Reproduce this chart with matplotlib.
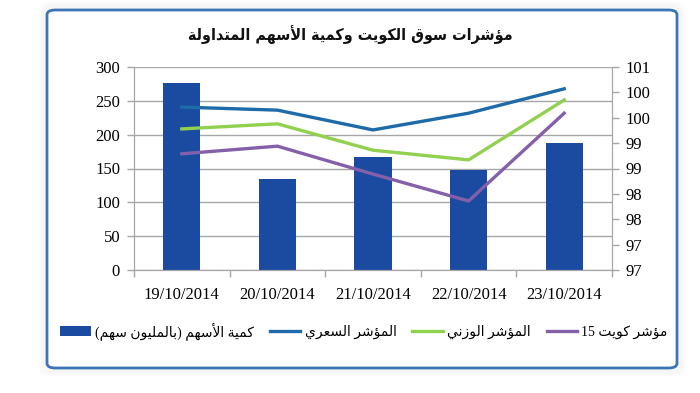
import re
import numpy as np
import matplotlib
matplotlib.use("Agg")
import matplotlib.pyplot as plt
from matplotlib.patches import FancyBboxPatch, Patch
from matplotlib.lines import Line2D
from matplotlib.ticker import FuncFormatter, MultipleLocator, FixedLocator

# ---------------- data ----------------
dates = ["19/10/2014", "20/10/2014", "21/10/2014", "22/10/2014", "23/10/2014"]
volume = [277, 135, 167, 148, 188]            # كمية الأسهم (بالمليون سهم)
price_index = [99.71, 99.65, 99.26, 99.59, 100.07]   # المؤشر السعري
weighted_index = [99.28, 99.38, 98.86, 98.67, 99.85]  # المؤشر الوزني
kuwait15 = [98.79, 98.94, 98.39, 97.86, 99.59]        # مؤشر كويت 15

title_text = "مؤشرات سوق الكويت وكمية الأسهم المتداولة"
legend_labels = ["كمية الأسهم (بالمليون سهم)", "المؤشر السعري",
                 "المؤشر الوزني", "مؤشر كويت 15"]

# ---------------- minimal Arabic shaping (matplotlib has no RTL shaping) ----------------
FORMS = {
    'ا': ('\uFE8D', '\uFE8E', None, None),
    'أ': ('\uFE83', '\uFE84', None, None),
    'ب': ('\uFE8F', '\uFE90', '\uFE91', '\uFE92'),
    'ة': ('\uFE93', '\uFE94', None, None),
    'ت': ('\uFE95', '\uFE96', '\uFE97', '\uFE98'),
    'د': ('\uFEA9', '\uFEAA', None, None),
    'ر': ('\uFEAD', '\uFEAE', None, None),
    'ز': ('\uFEAF', '\uFEB0', None, None),
    'س': ('\uFEB1', '\uFEB2', '\uFEB3', '\uFEB4'),
    'ش': ('\uFEB5', '\uFEB6', '\uFEB7', '\uFEB8'),
    'ع': ('\uFEC9', '\uFECA', '\uFECB', '\uFECC'),
    'ق': ('\uFED5', '\uFED6', '\uFED7', '\uFED8'),
    'ك': ('\uFED9', '\uFEDA', '\uFEDB', '\uFEDC'),
    'ل': ('\uFEDD', '\uFEDE', '\uFEDF', '\uFEE0'),
    'م': ('\uFEE1', '\uFEE2', '\uFEE3', '\uFEE4'),
    'ن': ('\uFEE5', '\uFEE6', '\uFEE7', '\uFEE8'),
    'ه': ('\uFEE9', '\uFEEA', '\uFEEB', '\uFEEC'),
    'و': ('\uFEED', '\uFEEE', None, None),
    'ؤ': ('\uFE85', '\uFE86', None, None),
    'ي': ('\uFEF1', '\uFEF2', '\uFEF3', '\uFEF4'),
}
LAMALEF = {'ا': ('\uFEFB', '\uFEFC'), 'أ': ('\uFEF7', '\uFEF8')}


def _dual(c):
    return c in FORMS and FORMS[c][2] is not None


def shape_rtl(s):
    out = []
    n = len(s)
    i = 0
    while i < n:
        c = s[i]
        if c not in FORMS:
            out.append(c)
            i += 1
            continue
        prev = s[i - 1] if i > 0 else ''
        jp = _dual(prev)
        if c == 'ل' and i + 1 < n and s[i + 1] in LAMALEF:
            iso, fin = LAMALEF[s[i + 1]]
            out.append(fin if jp else iso)
            i += 2
            continue
        nxt = s[i + 1] if i + 1 < n else ''
        jn = _dual(c) and nxt in FORMS
        iso, fin, ini, med = FORMS[c]
        out.append(med if (jp and jn) else fin if jp else ini if jn else iso)
        i += 1
    vis = ''.join(out)[::-1]
    vis = vis.translate(str.maketrans('()', ')('))
    vis = re.sub(r'[0-9]+', lambda m: m.group(0)[::-1], vis)
    return vis


# ---------------- figure ----------------
LATIN = 'Liberation Serif'
ARABIC = ['DejaVu Sans']

fig = plt.figure(figsize=(7.0, 3.93), dpi=100)
fig.patch.set_facecolor('white')

# outer rounded frame with soft shadow
W, H = 700, 393
for k, a in [(6, 0.03), (4, 0.04), (2, 0.06)]:
    fig.patches.append(FancyBboxPatch(((47 - k) / W, 1 - (368 + k) / H), (630 + 2 * k) / W, (358 + 2 * k) / H,
                                      boxstyle="round,pad=0,rounding_size=0.012",
                                      transform=fig.transFigure, facecolor='none',
                                      edgecolor='#9a9a9a', alpha=a, linewidth=3, zorder=-3))
fig.patches.append(FancyBboxPatch((47 / W, 1 - 368 / H), 630 / W, 358 / H,
                                  boxstyle="round,pad=0,rounding_size=0.012",
                                  transform=fig.transFigure, facecolor='white',
                                  edgecolor='#3d74b6', linewidth=2.0, zorder=-2))

ax = fig.add_axes([134 / W, 1 - 270 / H, (612 - 134) / W, (270 - 67) / H])
ax.set_facecolor('none')
ax2 = ax.twinx()

x = np.arange(len(dates))
grid_c = '#a6a6a6'

ax.bar(x, volume, width=0.39, color='#1b4ba0', zorder=2)
ax.set_ylim(0, 300)
ax.set_xlim(-0.5, len(dates) - 0.5)
ax.yaxis.set_major_locator(MultipleLocator(50))
ax.grid(axis='y', color=grid_c, linewidth=1.0, zorder=0)
ax.set_axisbelow(True)

ax.set_xticks(x)
ax.set_xticklabels(dates, fontfamily=LATIN, fontsize=12)
ax.xaxis.set_minor_locator(FixedLocator(np.arange(-0.5, len(dates), 1.0)))
ax.tick_params(axis='x', which='major', length=0, pad=12)
ax.tick_params(axis='x', which='minor', length=5, color=grid_c, width=1)
ax.tick_params(axis='y', which='major', length=5, color=grid_c, width=1, pad=5, labelsize=12)
for lab in ax.get_yticklabels():
    lab.set_fontfamily(LATIN)

for side in ['top']:
    ax.spines[side].set_visible(False)
    ax2.spines[side].set_visible(False)
for side in ['left', 'bottom', 'right']:
    ax.spines[side].set_color(grid_c)
    ax2.spines[side].set_color(grid_c)

ax2.plot(x, price_index, color='#1f6aa8', linewidth=2.4, zorder=3)
ax2.plot(x, weighted_index, color='#92d050', linewidth=2.4, zorder=3)
ax2.plot(x, kuwait15, color='#8560aa', linewidth=2.4, zorder=3)
ax2.set_ylim(96.5, 100.5)
ax2.yaxis.set_major_locator(MultipleLocator(0.5))
ax2.yaxis.set_major_formatter(FuncFormatter(lambda v, p: "%d" % int(np.floor(v + 0.5 + 1e-9))))
ax2.tick_params(axis='y', length=5, color=grid_c, width=1, pad=5, labelsize=12)
for lab in ax2.get_yticklabels():
    lab.set_fontfamily(LATIN)

# title
fig.text(0.5, 1 - 35 / H, shape_rtl(title_text), ha='center', va='center',
         fontsize=11.5, fontweight='bold', fontstretch='condensed', family=ARABIC, color='#111111')

# legend
handles = [Patch(facecolor='#1b4ba0', edgecolor='none'),
           Line2D([], [], color='#1f6aa8', linewidth=2.4),
           Line2D([], [], color='#92d050', linewidth=2.4),
           Line2D([], [], color='#8560aa', linewidth=2.4)]
leg = fig.legend(handles, [shape_rtl(t) for t in legend_labels], ncol=4,
                 loc='center', bbox_to_anchor=(364 / W, 1 - 331 / H), frameon=False,
                 prop={'family': [LATIN] + ARABIC, 'size': 10},
                 handlelength=2.2, handletextpad=0.3, columnspacing=1.15)

fig.savefig('out.png', dpi=100, facecolor='white')
